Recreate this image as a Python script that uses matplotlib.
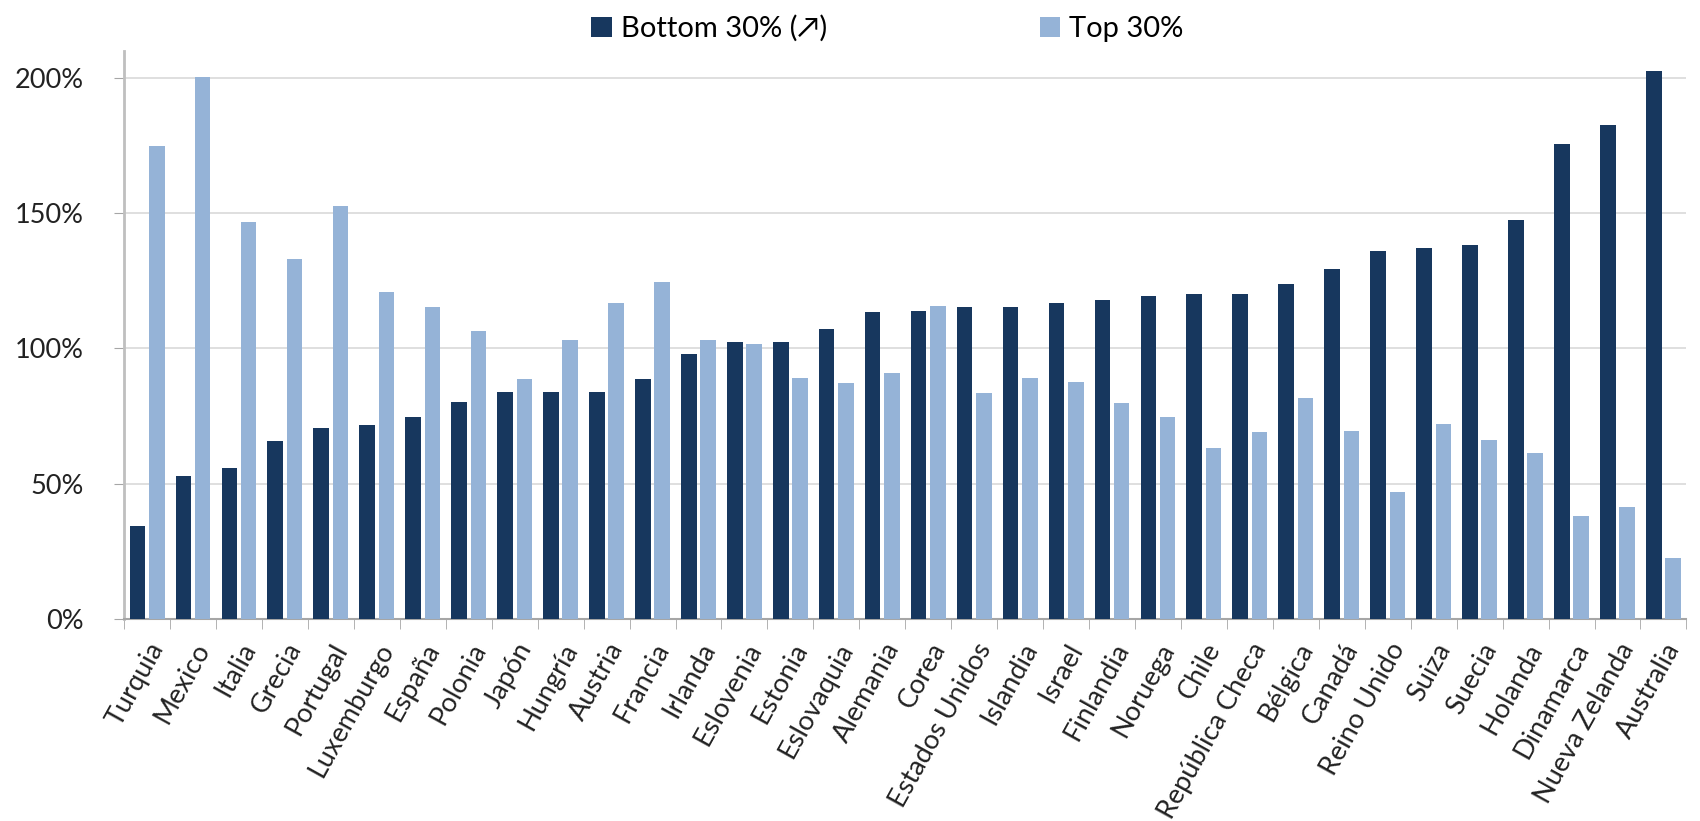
import numpy as np
import matplotlib
matplotlib.use("Agg")
import matplotlib.pyplot as plt
from matplotlib.ticker import FuncFormatter, FixedLocator

plt.rcParams["font.family"] = ["Lato", "DejaVu Sans"]

countries = ["Turquia", "Mexico", "Italia", "Grecia", "Portugal", "Luxemburgo",
             "España", "Polonia", "Japón", "Hungría", "Austria", "Francia",
             "Irlanda", "Eslovenia", "Estonia", "Eslovaquia", "Alemania", "Corea",
             "Estados Unidos", "Islandia", "Israel", "Finlandia", "Noruega", "Chile",
             "República Checa", "Bélgica", "Canadá", "Reino Unido", "Suiza", "Suecia",
             "Holanda", "Dinamarca", "Nueva Zelanda", "Australia"]

bottom_30 = [34.5, 52.8, 55.8, 65.8, 70.6, 71.8, 74.6, 80.4, 84.1, 84.1,
             84.1, 88.7, 98.1, 102.4, 102.4, 107.1, 113.4, 114.0, 115.4, 115.4,
             116.9, 118.1, 119.4, 120.0, 120.0, 123.8, 129.4, 135.9, 137.2, 138.2,
             147.6, 175.7, 182.6, 202.6]

top_30 = [174.8, 200.5, 146.9, 133.2, 152.6, 121.0, 115.4, 106.3, 88.7, 103.1,
          116.9, 124.4, 103.1, 101.6, 89.1, 87.1, 90.9, 115.6, 83.7, 89.1,
          87.6, 80.0, 74.6, 63.3, 69.3, 81.6, 69.4, 46.9, 72.1, 66.2,
          61.2, 38.0, 41.5, 22.4]

dark = "#17375e"
light = "#95b3d7"

fig = plt.figure(figsize=(17, 8.21), dpi=100)
ax = fig.add_axes([0.073, 0.246, 0.919, 0.692])

x = np.arange(len(countries))
w = 0.34
ax.bar(x - 0.21, bottom_30, w, color=dark, label="Bottom 30% (\u2197)", zorder=3)
ax.bar(x + 0.21, top_30, w, color=light, label="Top 30%", zorder=3)

ax.set_xlim(-0.5, len(countries) - 0.5)
ax.set_ylim(0, 210)
ax.set_yticks([0, 50, 100, 150, 200])
ax.yaxis.set_major_formatter(FuncFormatter(lambda v, p: f"{v:.0f}%"))
ax.grid(axis="y", color="#d9d9d9", linewidth=1.2, zorder=0)

# category labels at centres, tick marks at the boundaries
ax.set_xticks(x)
ax.set_xticklabels(countries, rotation=61, ha="right", rotation_mode="anchor",
                   fontsize=19.5, color="#222222")
ax.tick_params(axis="x", length=0, pad=14)
ax.xaxis.set_minor_locator(FixedLocator(np.arange(-0.5, len(countries), 1)))
ax.tick_params(axis="x", which="minor", length=7, color="#a6a6a6", direction="out")
ax.tick_params(axis="y", length=7, color="#a6a6a6", labelsize=19.5, labelcolor="#222222", pad=22)

for s in ["top", "right"]:
    ax.spines[s].set_visible(False)
ax.spines["left"].set_color("#bfbfbf")
ax.spines["left"].set_linewidth(2)
ax.spines["bottom"].set_color("#a6a6a6")
ax.spines["bottom"].set_linewidth(1.5)

fig.legend(loc="center", bbox_to_anchor=(0.522, 0.965), ncol=2, frameon=False,
           fontsize=21, handlelength=0.7, handleheight=0.7, handletextpad=0.3,
           columnspacing=7.3)

fig.savefig("out.png", dpi=100)
